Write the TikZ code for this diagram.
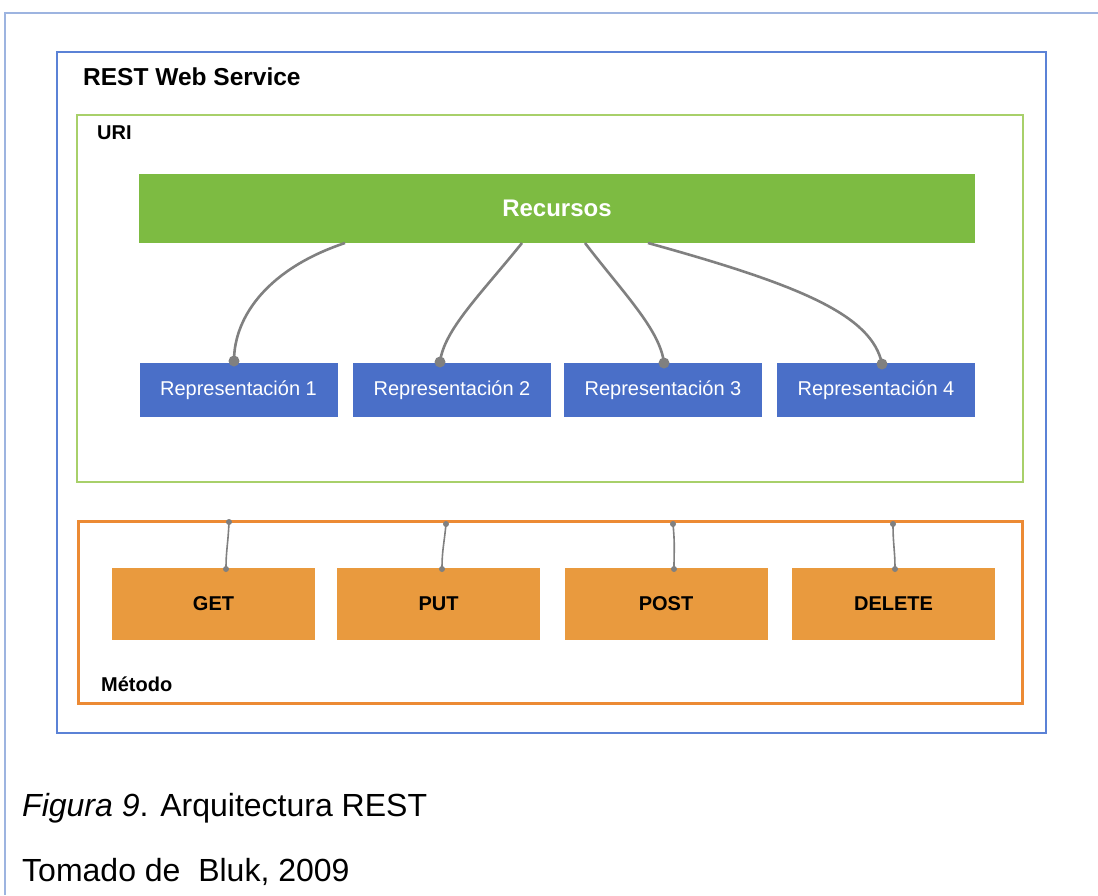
\documentclass[tikz,border=0pt]{standalone}
\usepackage{fontspec}
\setmainfont{Liberation Sans}
\definecolor{frameblue}{HTML}{9DB4E0}
\definecolor{boxblue}{HTML}{5B82D6}
\definecolor{urigreen}{HTML}{A8D06A}
\definecolor{recgreen}{HTML}{7DBB42}
\definecolor{repblue}{HTML}{4A6FC8}
\definecolor{methorange}{HTML}{EC8A34}
\definecolor{boxorange}{HTML}{E99A3E}
\definecolor{linkgray}{HTML}{808080}
\tikzset{
  repbox/.style={fill=repblue, draw=none, minimum width=198pt, minimum height=54pt, text=white, font=\fontsize{20}{24}\selectfont, inner sep=0pt},
  methbox/.style={fill=boxorange, draw=none, minimum width=203pt, minimum height=72pt, text=black, font=\bfseries\fontsize{20}{24}\selectfont, inner sep=0pt},
  lbl/.style={anchor=west, inner sep=0pt, font=\bfseries\fontsize{20}{24}\selectfont},
  link/.style={draw=linkgray, line width=2.6pt},
  mlink/.style={draw=linkgray, line width=1.6pt},
  dot/.style={circle, fill=linkgray, inner sep=0pt, minimum size=11pt},
  mdot/.style={circle, fill=linkgray, inner sep=0pt, minimum size=6pt},
  captxt/.style={anchor=west, inner sep=0pt, font=\fontsize{32}{36}\selectfont}
}
\begin{document}
\begin{tikzpicture}[x=1pt,y=-1pt]
\useasboundingbox (0,0) rectangle (1098,895);
\fill[white] (0,0) rectangle (1098,895);
% outer page frame
\draw[frameblue, line width=1.5pt] (1098,13) -- (5,13) -- (5,895);
% REST Web Service box
\draw[boxblue, line width=2pt] (57,52) rectangle (1046,733);
\node[lbl, font=\bfseries\fontsize{24.5}{28}\selectfont] (title) at (83,77) {REST Web Service};
% URI box
\draw[urigreen, line width=2.5pt] (77,115) rectangle (1023,482);
\node[lbl] (uri) at (97,133) {URI};
% Recursos
\node[fill=recgreen, minimum width=836pt, minimum height=69pt, inner sep=0pt, text=white, font=\bfseries\fontsize{24}{28}\selectfont] (rec) at (557,208.5) {Recursos};
% Representations
\node[repbox] (r1) at (238.5,390) {Representación 1};
\node[repbox] (r2) at (452,390) {Representación 2};
\node[repbox] (r3) at (663,390) {Representación 3};
\node[repbox] (r4) at (876,390) {Representación 4};
\coordinate (s1) at (345,243);
\coordinate (s2) at (522,243);
\coordinate (s3) at (585,243);
\coordinate (s4) at (648,243);
\node[dot] (d1) at (234,361) {};
\node[dot] (d2) at (440,362) {};
\node[dot] (d3) at (664,363) {};
\node[dot] (d4) at (882,364) {};
\draw[link] (s1) .. controls (270,268) and (234,315) .. (d1.center);
\draw[link] (s2) .. controls (480,295) and (444,330) .. (d2.center);
\draw[link] (s3) .. controls (625,295) and (660,330) .. (d3.center);
\draw[link] (s4) .. controls (800,285) and (872,315) .. (d4.center);
% Metodo box
\draw[methorange, line width=3pt] (78,521) rectangle (1022,703);
\node[lbl] (met) at (101,684) {Método};
\node[methbox] (get) at (213.5,604) {GET};
\node[methbox] (put) at (438.5,604) {PUT};
\node[methbox] (post) at (666,604) {POST};
\node[methbox] (del) at (893.5,604) {DELETE};
\node[mdot] (t1) at (229,522) {};
\node[mdot] (t2) at (446,524) {};
\node[mdot] (t3) at (673,524) {};
\node[mdot] (t4) at (893,524) {};
\node[mdot] (b1) at (226,569) {};
\node[mdot] (b2) at (442,569) {};
\node[mdot] (b3) at (674,569) {};
\node[mdot] (b4) at (895,569) {};
\draw[mlink] (t1.center) .. controls (228,545) and (226,550) .. (b1.center);
\draw[mlink] (t2.center) .. controls (444,545) and (442,550) .. (b2.center);
\draw[mlink] (t3.center) .. controls (675,545) and (674,550) .. (b3.center);
\draw[mlink] (t4.center) .. controls (893,545) and (895,550) .. (b4.center);
% caption
\node[captxt] (cap) at (22,808) {\textit{Figura 9}. Arquitectura REST};
\node[captxt] (src) at (22,872) {Tomado de\ \ Bluk, 2009};
\end{tikzpicture}
\end{document}
